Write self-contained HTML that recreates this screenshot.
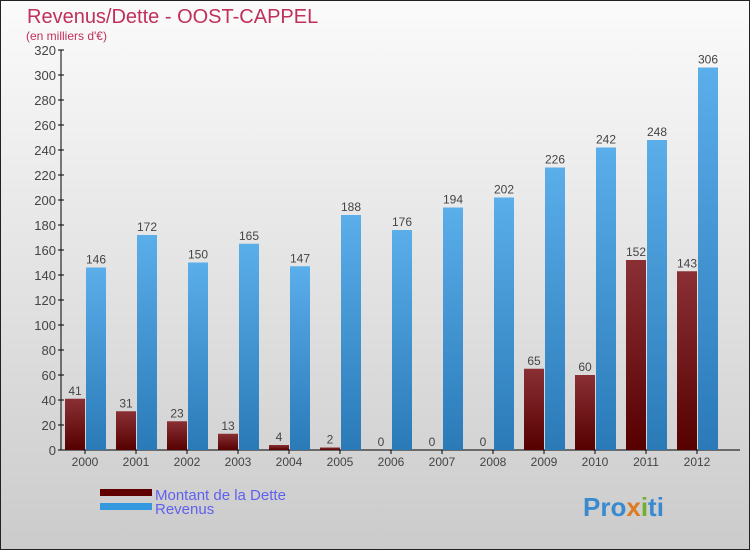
<!DOCTYPE html>
<html><head><meta charset="utf-8"><style>
body{margin:0}
#c{width:750px;height:550px;position:relative;font-family:"Liberation Sans",sans-serif}
</style></head><body>
<div id="c">
<svg width="750" height="550" id="svg">
<defs>
<linearGradient id="bg" x1="0" y1="0" x2="0" y2="1"><stop offset="0" stop-color="#fbfbfb"/><stop offset="1" stop-color="#cbcbcb"/></linearGradient>
<linearGradient id="gd" x1="0" y1="0" x2="0" y2="1"><stop offset="0" stop-color="#8a3035"/><stop offset="1" stop-color="#560000"/></linearGradient>
<linearGradient id="gr" x1="0" y1="0" x2="0" y2="1"><stop offset="0" stop-color="#5aaeea"/><stop offset="1" stop-color="#2a7ab8"/></linearGradient>
</defs>
<rect x="0.5" y="0.5" width="749" height="549" fill="url(#bg)" stroke="#222"/>
<text x="27" y="23" font-size="20" fill="#c0305a">Revenus/Dette - OOST-CAPPEL</text>
<text x="26" y="40" font-size="12" fill="#c0305a">(en milliers d'€)</text>
<g id="plot"></g>
<rect x="100" y="489" width="52" height="7" fill="#600000"/>
<rect x="100" y="503" width="52" height="7" fill="#3398dd"/>
<text x="155" y="500" font-size="15" fill="#6060ee">Montant de la Dette</text>
<text x="155" y="514" font-size="15" fill="#6060ee">Revenus</text>
<text x="583" y="516" font-size="26" font-weight="bold" fill="#3a8ad0">Pro<tspan fill="#e07a20">x</tspan><tspan fill="#70b030">i</tspan>ti</text>
</svg>
</div>
<script>
const years=["2000","2001","2002","2003","2004","2005","2006","2007","2008","2009","2010","2011","2012"];
const dette=[41,31,23,13,4,2,0,0,0,65,60,152,143];
const revenus=[146,172,150,165,147,188,176,194,202,226,242,248,306];
const ticks=[0,20,40,60,80,100,120,140,160,180,200,220,240,260,280,300,320];
const NS="http://www.w3.org/2000/svg";
const g=document.getElementById('plot');
const y=v=>450-v*1.25;
const xc=i=>85+i*51;
function mk(t,a){const e=document.createElementNS(NS,t);for(const k in a)e.setAttribute(k,a[k]);g.appendChild(e);return e;}
let ax=mk('line',{x1:61,y1:50,x2:61,y2:450,stroke:'#000'});


let bx=mk('line',{x1:58,y1:450,x2:740,y2:450,stroke:'#000'});


ticks.forEach(t=>{
 let l=mk('line',{x1:58,y1:y(t),x2:64,y2:y(t),stroke:'#000'});
 
 
 let tx=mk('text',{x:56,y:y(t)+5,'font-size':13,fill:'#444','text-anchor':'end'});
 tx.textContent=t;
 
 
});
years.forEach((yr,i)=>{
 const c=xc(i);
 let tl=mk('line',{x1:c,y1:450,x2:c,y2:454,stroke:'#000'});
 
 
 let lb=mk('text',{x:c,y:466,'font-size':12,fill:'#444','text-anchor':'middle'});
 lb.textContent=yr;
 
 
 let d=mk('rect',{x:c-20,y:y(dette[i]),width:20,height:dette[i]*1.25,fill:'url(#gd)'});
 
 
 let r=mk('rect',{x:c+1,y:y(revenus[i]),width:20,height:revenus[i]*1.25,fill:'url(#gr)'});
 
 
 let dv=mk('text',{x:c-10,y:y(dette[i])-4,'font-size':12,fill:'#444','text-anchor':'middle'});
 dv.textContent=dette[i];
 
 
 let rv=mk('text',{x:c+11,y:y(revenus[i])-4,'font-size':12,fill:'#444','text-anchor':'middle'});
 rv.textContent=revenus[i];
 
 
});
</script>
</body></html>
